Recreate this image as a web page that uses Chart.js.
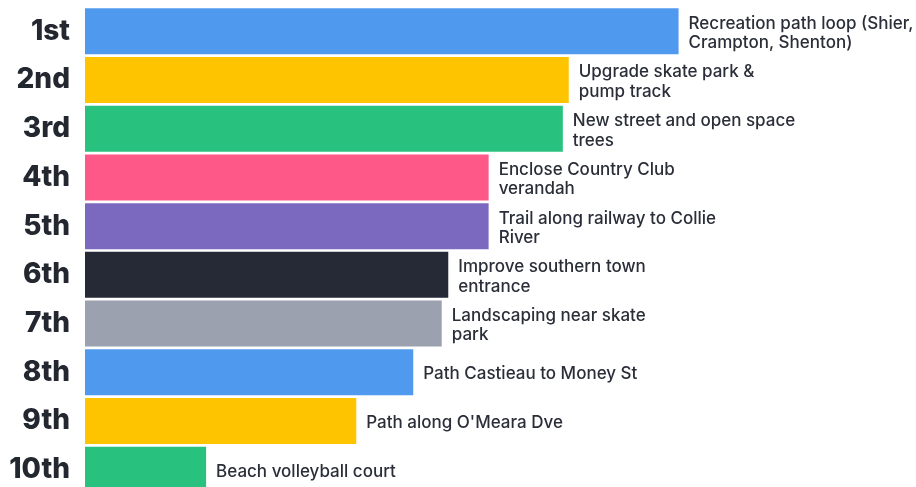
<!DOCTYPE html>
<html>
<head>
<meta charset="utf-8">
<script src="https://cdn.jsdelivr.net/npm/chart.js@4/dist/chart.umd.min.js"></script>
<style>
  html, body { margin: 0; padding: 0; background: #fff; overflow: hidden; }
  #wrap { width: 916px; height: 494px; position: relative; }
</style>
</head>
<body>
<div id="wrap"><canvas id="rankChart"></canvas></div>
<script>
// Ranking data
const ranks = ["1st", "2nd", "3rd", "4th", "5th", "6th", "7th", "8th", "9th", "10th"];
const projects = [
  ["Recreation path loop (Shier,", "Crampton, Shenton)"],
  ["Upgrade skate park &", "pump track"],
  ["New street and open space", "trees"],
  ["Enclose Country Club", "verandah"],
  ["Trail along railway to Collie", "River"],
  ["Improve southern town", "entrance"],
  ["Landscaping near skate", "park"],
  ["Path Castieau to Money St"],
  ["Path along O'Meara Dve"],
  ["Beach volleyball court"]
];
const scores = [100, 81.5, 80.5, 68, 68, 61.2, 60.1, 55.3, 45.7, 20.4];
const barColors = ["#4f9aef", "#fec400", "#28c27e", "#fe5889", "#7b69c0",
                   "#252a36", "#9ca1b0", "#4f9aef", "#fec400", "#28c27e"];

// draws the project names just past the end of each bar
const barLabels = {
  id: "barLabels",
  afterDatasetsDraw(chart) {
    const ctx = chart.ctx;
    const meta = chart.getDatasetMeta(0);
    ctx.save();
    ctx.font = "500 17px Inter, 'Noto Sans', sans-serif";
    ctx.fillStyle = "#2a2e38";
    ctx.textAlign = "left";
    ctx.textBaseline = "middle";
    const lineH = 19.5;
    meta.data.forEach((bar, i) => {
      const lines = projects[i];
      const startY = bar.y + 2 - (lines.length - 1) * lineH / 2;
      lines.forEach((line, j) => {
        ctx.fillText(line, bar.x + 10, startY + j * lineH);
      });
    });
    ctx.restore();
  }
};

new Chart(document.getElementById("rankChart"), {
  type: "bar",
  data: {
    labels: ranks,
    datasets: [{
      data: scores,
      backgroundColor: barColors,
      borderWidth: 0,
      barPercentage: 0.945,
      categoryPercentage: 1
    }]
  },
  options: {
    indexAxis: "y",
    responsive: true,
    maintainAspectRatio: false,
    animation: false,
    layout: { padding: { top: 7, right: 0, bottom: 0, left: 0 } },
    scales: {
      x: {
        display: false,
        min: 0,
        max: 140
      },
      y: {
        grid: { display: false },
        border: { display: false },
        afterFit(scale) {
          scale.width = 85;
          scale.paddingTop = 0;
          scale.paddingBottom = 0;
        },
        ticks: {
          padding: 7,
          color: "#232730",
          font: { family: "Inter, 'Noto Sans', sans-serif", size: 28, weight: "800" }
        }
      }
    },
    plugins: {
      legend: { display: false },
      tooltip: { enabled: false }
    }
  },
  plugins: [barLabels]
});
</script>
</body>
</html>
